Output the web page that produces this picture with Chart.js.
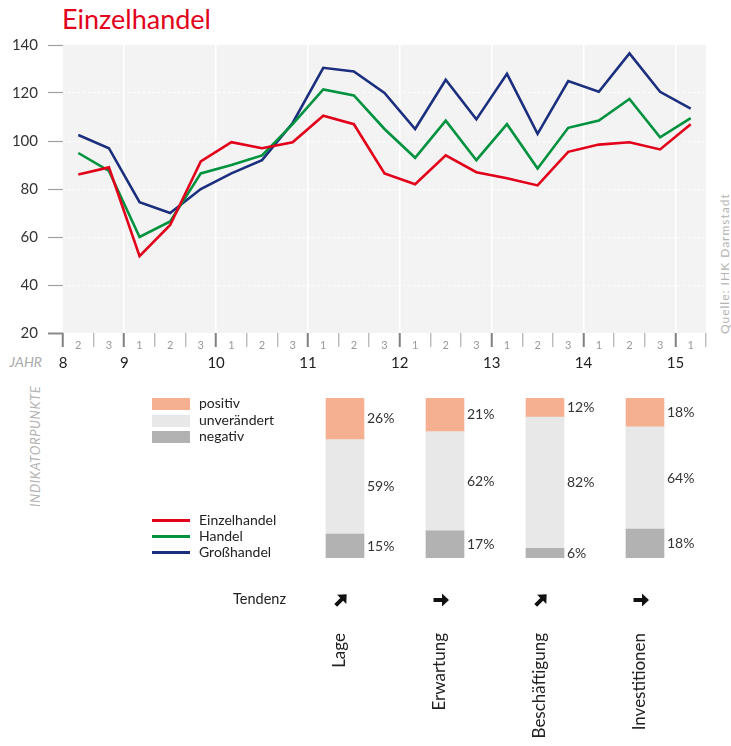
<!DOCTYPE html>
<html>
<head>
<meta charset="utf-8">
<script src="https://cdn.jsdelivr.net/npm/chart.js@4.4.1/dist/chart.umd.min.js"></script>
<style>
  body { margin: 0; background: #fff; font-family: Lato, "Open Sans", sans-serif; }
  #page { position: relative; width: 731px; height: 746px; overflow: hidden; }
  canvas { position: absolute; left: 0; }
  .txt { position: absolute; white-space: nowrap; color: #222; }
  .rot { transform: rotate(-90deg); transform-origin: 0 0; }
  .box { position: absolute; width: 38px; height: 12px; }
  .lin { position: absolute; width: 38px; height: 3px; }
</style>
</head>
<body>
<div id="page">
  <div class="txt" style="left:62px; top:2px; font-size:27px; line-height:34px; color:#e2001a;">Einzelhandel</div>
  <div class="txt" style="left:6px; top:354px; font-size:14px; line-height:16px; color:#aaa; font-style:italic; width:36px; text-align:right;">JAHR</div>
  <div class="txt rot" style="left:28px; top:507px; font-size:13px; line-height:14px; color:#b3b3b3; font-style:italic; letter-spacing:0.6px;">INDIKATORPUNKTE</div>
  <div class="txt rot" style="left:718px; top:334px; font-size:12px; line-height:14px; color:#b3b3b3; letter-spacing:1px;">Quelle: IHK Darmstadt</div>

  <canvas id="lineChart" width="731" height="380" style="top:0"></canvas>
  <canvas id="barChart" width="731" height="366" style="top:380px"></canvas>

  <div id="legend"></div>
  <div class="txt" style="left:233px; top:591px; font-size:14.5px; line-height:16px;">Tendenz</div>
</div>

<script>
// Zeitachse (Umfragen je Jahr: 1, 2, 3)
let periodLabels = ['2','3','1','2','3','1','2','3','1','2','3','1','2','3','1','2','3','1','2','3','1'];
let periodYears = ['8','8','9','9','9','10','10','10','11','11','11','12','12','12','13','13','13','14','14','14','15'];

// Indikatorpunkte
let einzelhandel = [86, 89, 52, 65, 91.5, 99.5, 97, 99.5, 110.5, 107, 86.5, 82, 94, 87, 84.5, 81.5, 95.5, 98.5, 99.5, 96.5, 107];
let handel = [95, 87.5, 60, 66.5, 86.5, 90, 94, 107, 121.5, 119, 105, 93, 108.5, 92, 107, 88.5, 105.5, 108.5, 117.5, 101.5, 109.5];
let grosshandel = [102.5, 97, 74.5, 70, 80, 86.5, 92, 107.5, 130.5, 129, 120, 105, 125.5, 109, 128, 103, 125, 120.5, 136.5, 120.5, 113.5];

let yTicks = [20, 40, 60, 80, 100, 120, 140];

// Balken
let categories = ['Lage', 'Erwartung', 'Beschäftigung', 'Investitionen'];
let positiv = [26, 21, 12, 18];
let unveraendert = [59, 62, 82, 64];
let negativ = [15, 17, 6, 18];
let tendenz = ['up', 'flat', 'up', 'flat'];

let lineSeries = [
    { label: 'Einzelhandel', data: einzelhandel, color: '#e2001a' },
    { label: 'Handel', data: handel, color: '#00923f' },
    { label: 'Großhandel', data: grosshandel, color: '#1c2f7f' }
];
let barSeries = [
    { label: 'positiv', data: positiv, color: '#f5b092' },
    { label: 'unverändert', data: unveraendert, color: '#e8e8e8' },
    { label: 'negativ', data: negativ, color: '#b2b2b3' }
];

// Legende
function buildLegend(){
    let legend = document.getElementById('legend');
    let html = '';
    barSeries.forEach(function(s, i){
        let top = 398 + i * 16.5;
        html += '<div class="box" style="left:152px; top:' + top + 'px; background:' + s.color + '"></div>';
        html += '<div class="txt" style="left:199px; top:' + (top - 3) + 'px; font-size:14px; line-height:16px;">' + s.label + '</div>';
    });
    lineSeries.forEach(function(s, i){
        let top = 519 + i * 16.2;
        html += '<div class="lin" style="left:152px; top:' + top + 'px; background:' + s.color + '"></div>';
        html += '<div class="txt" style="left:199px; top:' + (top - 7) + 'px; font-size:14px; line-height:16px;">' + s.label + '</div>';
    });
    legend.innerHTML = html;
}
buildLegend();

function isYearStart(i){
    return i === 0 || (i < periodYears.length && periodYears[i] !== periodYears[i - 1]);
}

// grauer Hintergrund + Jahreszahlen
let linePlugin = {
    id: 'linePlugin',
    beforeDraw: function(chart){
        let a = chart.chartArea;
        let ctx = chart.ctx;
        ctx.save();
        ctx.fillStyle = '#f3f3f3';
        ctx.fillRect(a.left, a.top, a.right - a.left, a.bottom - a.top);
        ctx.restore();
    },
    afterDraw: function(chart){
        let xs = chart.scales.x;
        let ctx = chart.ctx;
        let step = xs.getPixelForValue(1) - xs.getPixelForValue(0);
        ctx.save();
        ctx.fillStyle = '#222';
        ctx.font = '15px Lato, sans-serif';
        ctx.textAlign = 'center';
        ctx.textBaseline = 'middle';
        for(let i = 0; i < periodYears.length; i++){
            if(isYearStart(i)){
                ctx.fillText(periodYears[i], xs.getPixelForValue(i) - step / 2, 363);
            }
        }
        ctx.restore();
    }
};

new Chart(document.getElementById('lineChart'), {
    type: 'line',
    data: {
        labels: periodLabels,
        datasets: lineSeries.map(function(s){
            return {
                label: s.label,
                data: s.data,
                borderColor: s.color,
                borderWidth: 2.6,
                pointRadius: 0,
                tension: 0,
                fill: false
            };
        })
    },
    options: {
        responsive: false,
        animation: false,
        devicePixelRatio: 1,
        layout: { padding: { top: 45, right: 25, left: 0, bottom: 0 } },
        plugins: { legend: { display: false }, tooltip: { enabled: false } },
        scales: {
            x: {
                offset: true,
                afterFit: function(s){ s.height = 47; },
                grid: {
                    offset: true,
                    lineWidth: 1.5,
                    color: function(c){
                        return (c.index > 0 && c.index < periodLabels.length && isYearStart(c.index)) ? '#ffffff' : 'rgba(0,0,0,0)';
                    },
                    tickLength: 14,
                    tickColor: function(c){ return isYearStart(c.index) ? '#808080' : '#b0b0b0'; },
                    tickWidth: function(c){ return isYearStart(c.index) ? 2 : 1.2; }
                },
                border: { display: false },
                ticks: {
                    autoSkip: false,
                    maxRotation: 0,
                    padding: -8,
                    color: '#999',
                    font: { family: 'Lato', size: 11 }
                }
            },
            y: {
                min: 20,
                max: 140,
                afterFit: function(s){ s.width = 63; },
                afterBuildTicks: function(s){ s.ticks = yTicks.map(function(v){ return { value: v }; }); },
                grid: {
                    lineWidth: 1,
                    color: function(c){
                        let v = c.tick ? c.tick.value : 0;
                        return (v > 20 && v < 140) ? '#ffffff' : 'rgba(0,0,0,0)';
                    },
                    tickLength: 15,
                    tickColor: function(c){ return (c.tick && c.tick.value === 20) ? '#8a8a8a' : '#a0a0a0'; },
                    tickWidth: function(c){ return (c.tick && c.tick.value === 20) ? 2 : 1.2; }
                },
                border: { display: false, dash: [2, 3] },
                ticks: {
                    padding: 10,
                    color: '#333',
                    font: { family: 'Lato', size: 15 }
                }
            }
        }
    },
    plugins: [linePlugin]
});

// Prozentwerte + Tendenzpfeile
function drawArrow(ctx, x, y, dir){
    ctx.save();
    ctx.translate(x, y);
    if(dir === 'up'){
        ctx.rotate(-Math.PI / 4);
    }
    ctx.fillStyle = '#111';
    ctx.beginPath();
    ctx.moveTo(-7.5, -2);
    ctx.lineTo(1, -2);
    ctx.lineTo(1, -6.5);
    ctx.lineTo(8, 0);
    ctx.lineTo(1, 6.5);
    ctx.lineTo(1, 2);
    ctx.lineTo(-7.5, 2);
    ctx.closePath();
    ctx.fill();
    ctx.restore();
}

let barPlugin = {
    id: 'barPlugin',
    afterDatasetsDraw: function(chart){
        let ctx = chart.ctx;
        ctx.save();
        ctx.fillStyle = '#333';
        ctx.font = '14px Lato, sans-serif';
        ctx.textAlign = 'left';
        ctx.textBaseline = 'middle';
        chart.data.datasets.forEach(function(ds, d){
            let meta = chart.getDatasetMeta(d);
            meta.data.forEach(function(el, i){
                let mid = (el.y + el.base) / 2;
                ctx.fillText(ds.data[i] + '%', el.x + el.width / 2 + 3, mid);
            });
        });
        ctx.restore();
        let xs = chart.scales.x;
        tendenz.forEach(function(t, i){
            drawArrow(ctx, xs.getPixelForValue(i) - 4, 220, t);
        });
    }
};

// gestapelt von unten: negativ, unverändert, positiv
let stackOrder = barSeries.slice().reverse();

new Chart(document.getElementById('barChart'), {
    type: 'bar',
    data: {
        labels: categories,
        datasets: stackOrder.map(function(s){
            return {
                label: s.label,
                data: s.data,
                backgroundColor: s.color,
                barThickness: 38
            };
        })
    },
    options: {
        responsive: false,
        animation: false,
        devicePixelRatio: 1,
        layout: { padding: { top: 18, right: 36, left: 295, bottom: 0 } },
        plugins: { legend: { display: false }, tooltip: { enabled: false } },
        scales: {
            x: {
                stacked: true,
                afterFit: function(s){
                    s.height = 188;
                    s.paddingLeft = 0;
                    s.paddingRight = 0;
                },
                grid: { display: false, drawTicks: false },
                border: { display: false },
                ticks: {
                    minRotation: 90,
                    maxRotation: 90,
                    padding: 75,
                    labelOffset: -5,
                    color: '#222',
                    font: { family: 'Lato', size: 17 }
                }
            },
            y: {
                stacked: true,
                min: 0,
                max: 100,
                display: false
            }
        }
    },
    plugins: [barPlugin]
});
</script>
</body>
</html>
